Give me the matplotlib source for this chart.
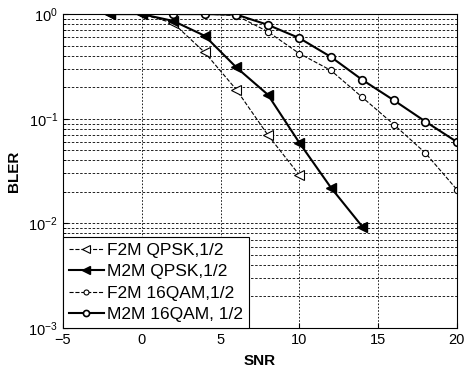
import matplotlib
matplotlib.use("Agg")
import matplotlib.pyplot as plt
import numpy as np

plt.rcParams['font.family'] = ['Liberation Sans', 'DejaVu Sans']
plt.rcParams['mathtext.default'] = 'regular'

# data
snr_qpsk_f2m = [-2, 0, 2, 4, 6, 8, 10]
bler_qpsk_f2m = [1.0, 1.0, 0.82, 0.43, 0.19, 0.070, 0.029]

snr_qpsk_m2m = [-2, 0, 2, 4, 6, 8, 10, 12, 14]
bler_qpsk_m2m = [1.0, 1.0, 0.86, 0.62, 0.31, 0.17, 0.059, 0.022, 0.0093]

snr_qam = [2, 4, 6, 8, 10, 12, 14, 16, 18, 20]
bler_qam_f2m = [1.0, 1.0, 0.97, 0.68, 0.42, 0.29, 0.16, 0.088, 0.047, 0.021]
bler_qam_m2m = [1.0, 1.0, 0.99, 0.79, 0.59, 0.39, 0.235, 0.15, 0.094, 0.060]

labels = ['F2M QPSK,1/2', 'M2M QPSK,1/2', 'F2M 16QAM,1/2', 'M2M 16QAM, 1/2']

fig = plt.figure(figsize=(4.73, 3.71), dpi=100)
ax = fig.add_axes([0.133, 0.116, 0.833, 0.846])

ax.semilogy(snr_qpsk_f2m, bler_qpsk_f2m, '--', color='k', lw=0.8, marker='<',
            ms=7, mfc='white', mec='k', mew=0.8, label=labels[0])
ax.semilogy(snr_qpsk_m2m, bler_qpsk_m2m, '-', color='k', lw=1.5, marker='<',
            ms=7, mfc='k', mec='k', label=labels[1])
ax.semilogy(snr_qam, bler_qam_f2m, '--', color='k', lw=0.8, marker='o',
            ms=4.5, mfc='white', mec='k', mew=0.8, label=labels[2])
ax.semilogy(snr_qam, bler_qam_m2m, '-', color='k', lw=1.5, marker='o',
            ms=5.5, mfc='white', mec='k', mew=1.2, label=labels[3])

ax.set_xlim(-5, 20)
ax.set_ylim(1e-3, 1)
ax.set_xticks([-5, 0, 5, 10, 15, 20])
ax.grid(True, which='major', axis='x', ls=(0, (2, 2)), color='k', lw=0.6)
ax.grid(True, which='both', axis='y', ls=(0, (3, 2)), color='k', lw=0.6)
ax.tick_params(which='both', direction='in', labelsize=10.5)
ax.tick_params(which='minor', length=2)
for s in ax.spines.values():
    s.set_linewidth(0.8)

ax.set_xlabel('SNR', fontweight='bold', fontsize=11, labelpad=5)
ax.set_ylabel('BLER', fontweight='bold', fontsize=11, labelpad=5)

leg = ax.legend(loc='lower left', fontsize=12.5, fancybox=False, framealpha=1,
                edgecolor='k', borderaxespad=0, handlelength=2.0,
                handletextpad=0.2, labelspacing=0.35, borderpad=0.35,
                markerscale=0.8)
leg.get_frame().set_linewidth(0.8)

fig.savefig('out.png', dpi=100)
